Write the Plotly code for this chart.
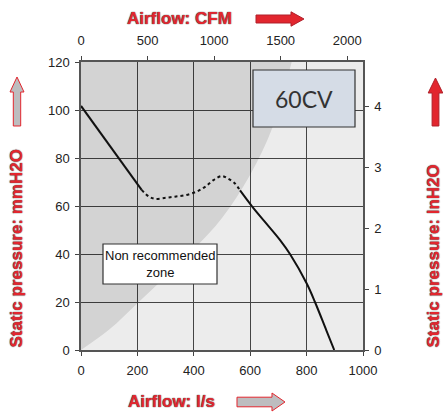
import plotly.graph_objects as go

# fan curve, airflow in l/s vs static pressure in mmH2O
flow_hi = [0, 132, 215]
press_hi = [101.7, 80.0, 66.7]
flow_dot = [215, 240, 262, 300, 333, 370, 410, 440, 470, 499, 520, 545, 564]
press_dot = [66.7, 64.0, 63.0, 63.4, 63.9, 64.5, 66.0, 68.0, 70.8, 72.5, 71.5, 69.5, 66.5]
flow_lo = [564, 605, 650, 706, 741, 800, 830, 870, 898]
press_lo = [66.5, 60.1, 53.7, 45.8, 40.0, 27.8, 19.9, 8.2, 0]

# non recommended zone boundary
zone_flow = [0, 100, 200, 300, 400, 500, 600, 680, 747]
zone_press = [0, 8.5, 19.5, 30.5, 42, 55, 73, 93, 120]

ls_ticks = [0, 200, 400, 600, 800, 1000]
mm_ticks = [0, 20, 40, 60, 80, 100, 120]
cfm_ticks = [0, 500, 1000, 1500, 2000]
inch_ticks = [0, 1, 2, 3, 4]

CFM_PER_LS = 2.11888
MM_PER_IN = 25.4

# plot area in pixels
L, T, W, H = 81, 62, 282, 288


def pp(x, y):
    return (x - L) / W, (T + H - y) / H


def path(points):
    s = ""
    for i, (x, y) in enumerate(points):
        px_, py_ = pp(x, y)
        s += ("M" if i == 0 else "L") + f"{px_:.5f},{py_:.5f} "
    return s + "Z"


def arrow_right(x0, x1, xh, yc, sh, hh):
    return path([(x0, yc - sh), (xh, yc - sh), (xh, yc - hh), (x1, yc),
                 (xh, yc + hh), (xh, yc + sh), (x0, yc + sh)])


def arrow_up(xc, ytip, yh, ybot, sw, hw):
    return path([(xc - sw, ybot), (xc - sw, yh), (xc - hw, yh), (xc, ytip),
                 (xc + hw, yh), (xc + sw, yh), (xc + sw, ybot)])


RED = "#e2262e"
GREY = "#bdbdbf"
TXT = "#222222"
tick_font = dict(family="Arial, Liberation Sans", size=13, color=TXT)

fig = go.Figure()
fig.add_trace(go.Scatter(x=zone_flow, y=zone_press, mode="lines", line=dict(width=0, shape="spline"),
                         fill="tozerox", fillcolor="rgba(0,0,0,0.105)", hoverinfo="skip", showlegend=False))
fig.add_trace(go.Scatter(x=flow_hi, y=press_hi, mode="lines", line=dict(color="#111", width=2),
                         showlegend=False))
fig.add_trace(go.Scatter(x=flow_dot, y=press_dot, mode="lines",
                         line=dict(color="#111", width=2, dash="dot", shape="spline"), showlegend=False))
fig.add_trace(go.Scatter(x=flow_lo, y=press_lo, mode="lines",
                         line=dict(color="#111", width=2, shape="spline"), showlegend=False))
fig.add_trace(go.Scatter(x=[0], y=[0], xaxis="x2", yaxis="y2", mode="markers",
                         marker=dict(opacity=0), hoverinfo="skip", showlegend=False))

axis_common = dict(showline=True, linecolor="#555", linewidth=1.5, ticks="outside", ticklen=4,
                   tickcolor="#444", tickfont=tick_font, zeroline=False)

fig.update_layout(
    width=443, height=414,
    margin=dict(l=L, r=443 - L - W, t=T, b=414 - T - H),
    paper_bgcolor="white", plot_bgcolor="#ececec",
    xaxis=dict(range=[0, 1000], tickvals=ls_ticks, showgrid=True, gridcolor="#444", gridwidth=1,
               ticklabelstandoff=4, **axis_common),
    yaxis=dict(range=[0, 120], tickvals=mm_ticks, showgrid=True, gridcolor="#444", gridwidth=1,
               ticklabelstandoff=3, **axis_common),
    xaxis2=dict(range=[0, 1000 * CFM_PER_LS], tickvals=cfm_ticks, overlaying="x", side="top",
                anchor="y", showgrid=False, ticklabelstandoff=6, **axis_common),
    yaxis2=dict(range=[0, 120 / MM_PER_IN], tickvals=inch_ticks, overlaying="y", side="right",
                anchor="x", showgrid=False, ticklabelstandoff=3, **axis_common),
    shapes=[
        dict(type="path", xref="paper", yref="paper", path=path([(253, 70), (355, 70), (355, 127), (253, 127)]),
             fillcolor="#d5dce6", line=dict(color="#333", width=1.2), layer="above"),
        dict(type="path", xref="paper", yref="paper", path=path([(103, 244), (217, 244), (217, 284), (103, 284)]),
             fillcolor="white", line=dict(color="#333", width=1.2), layer="above"),
        dict(type="path", xref="paper", yref="paper", path=arrow_right(256, 304, 291, 19, 4, 7.2),
             fillcolor=RED, line=dict(color="#b0202a", width=1)),
        dict(type="path", xref="paper", yref="paper", path=arrow_right(237, 285, 272, 402, 4.8, 9),
             fillcolor=GREY, line=dict(color=RED, width=1)),
        dict(type="path", xref="paper", yref="paper", path=arrow_up(17, 77, 92, 126, 3.7, 7),
             fillcolor=GREY, line=dict(color=RED, width=1)),
        dict(type="path", xref="paper", yref="paper", path=arrow_up(435.5, 78, 93, 126, 3.4, 7.3),
             fillcolor=RED, line=dict(color="#b0202a", width=1)),
    ],
)

title_font = dict(family="Arial, Liberation Sans", size=17, color=RED, weight="bold",
                  shadow="0 0 1px #555, 0 0 1px #555")


def note(x, y, text, font, angle=0):
    px_, py_ = pp(x, y)
    fig.add_annotation(x=px_, y=py_, xref="paper", yref="paper", text=text, showarrow=False,
                       xanchor="center", yanchor="middle", font=font, textangle=angle)


note(179.5, 19, "Airflow: CFM", title_font)
note(171, 401, "Airflow: l/s", title_font)
note(16, 248.5, "Static pressure: mmH2O", title_font, -90)
note(433, 256.5, "Static pressure: InH2O", title_font, -90)
note(304, 98.5, "60CV", dict(family="Lato", size=23, color="#333"))
note(160, 264, "Non recommended<br>zone", dict(family="Arial, Liberation Sans", size=13, color="#111"))

# drop the page's default body margin so the figure sits at the window corner
fig.write_html("out.html", config={"displayModeBar": False},
               post_script="document.body.style.margin='0';")
